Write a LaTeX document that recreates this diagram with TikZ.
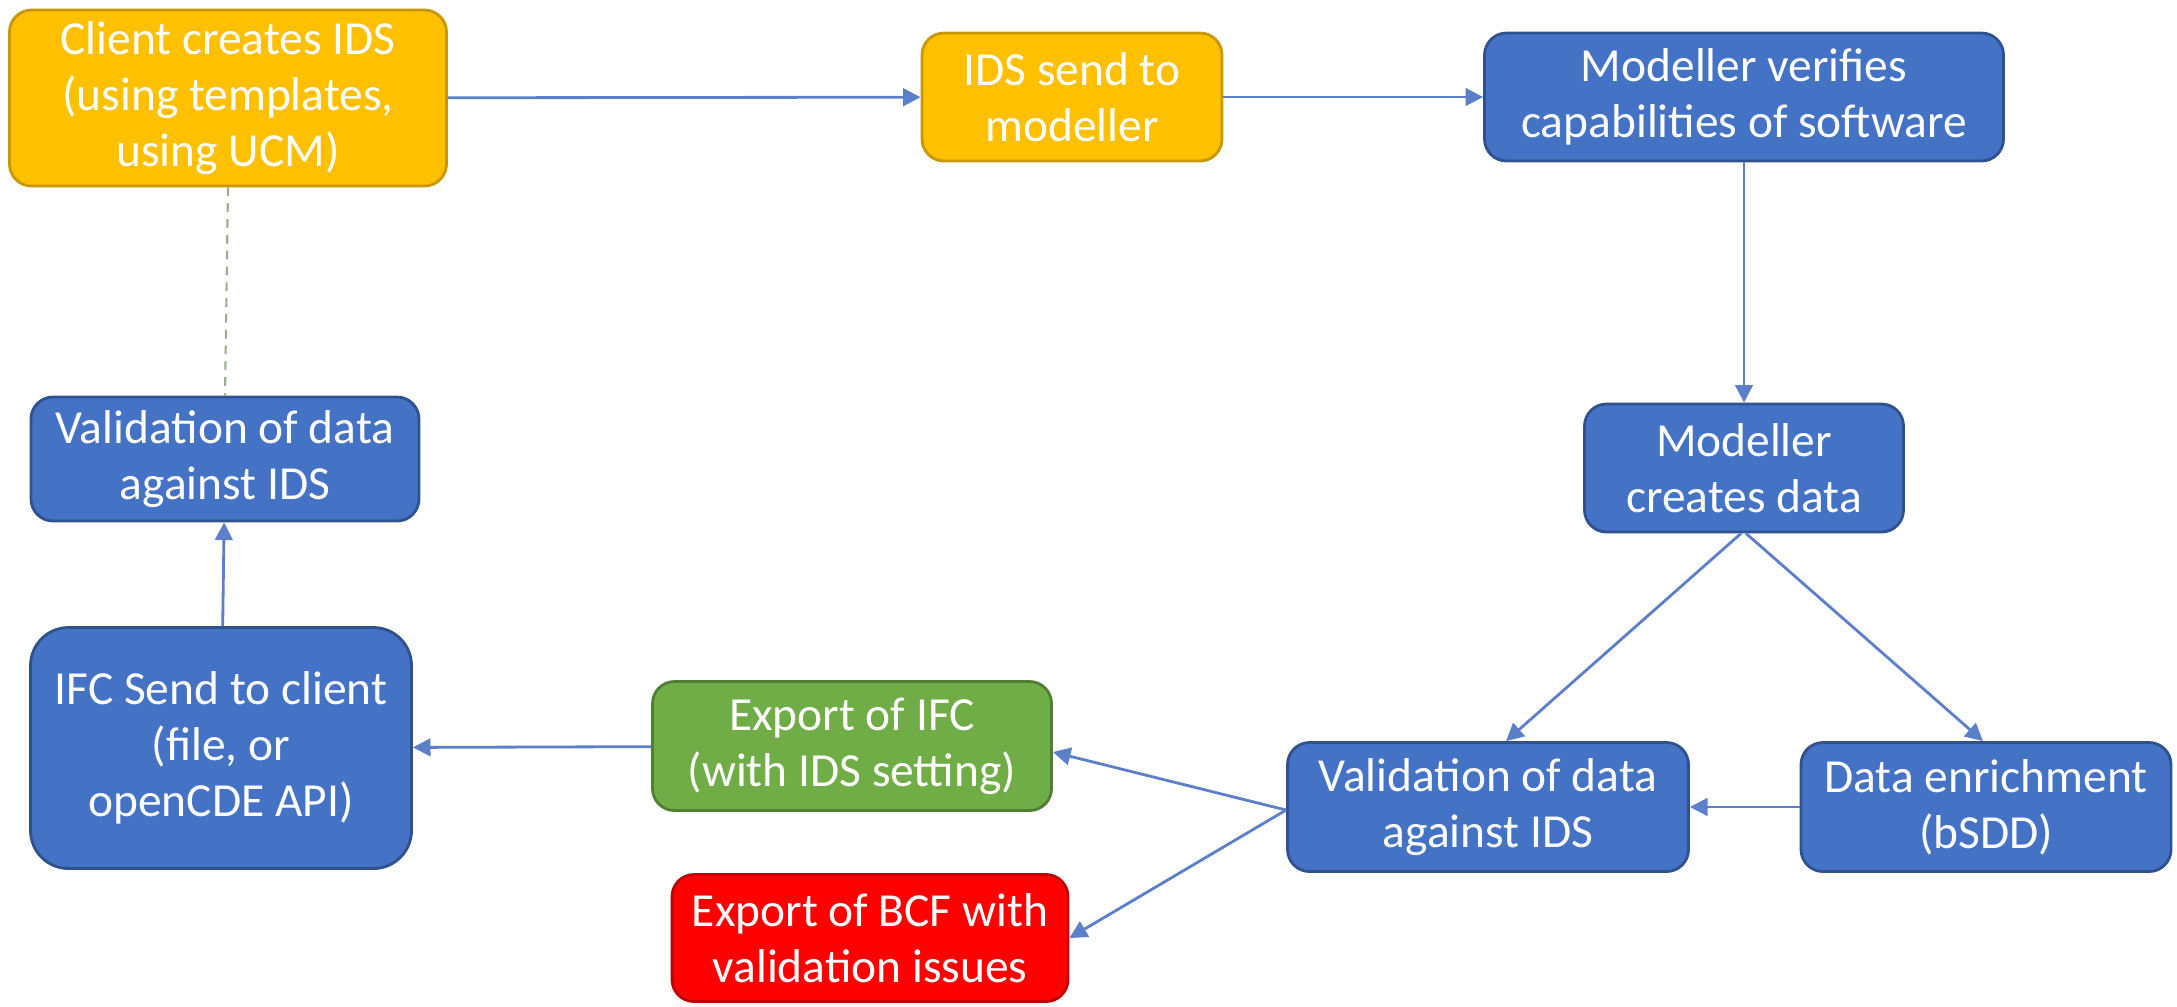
\documentclass[tikz,border=0pt]{standalone}
\usepackage{fontspec}
\setmainfont{Carlito}
\usetikzlibrary{arrows.meta,calc}
\definecolor{orgfill}{HTML}{FFC000}
\definecolor{orgdraw}{HTML}{C99700}
\definecolor{bluefill}{HTML}{4472C4}
\definecolor{bluedraw}{HTML}{2F528F}
\definecolor{grnfill}{HTML}{70AD47}
\definecolor{grndraw}{HTML}{507E32}
\definecolor{redfill}{HTML}{FF0000}
\definecolor{reddraw}{HTML}{C00000}
\definecolor{arrowcol}{HTML}{5B7FC9}
\definecolor{dashcol}{HTML}{9DAE8C}
\tikzset{
  box/.style={rounded corners=0.22cm, line width=0.8pt, inner sep=0pt, align=center,
    text=white, font=\fontsize{13.5}{16}\selectfont},
  orgbox/.style={box, fill=orgfill, draw=orgdraw},
  bluebox/.style={box, fill=bluefill, draw=bluedraw},
  grnbox/.style={box, fill=grnfill, draw=grndraw},
  redbox/.style={box, fill=redfill, draw=reddraw},
  conn/.style={draw=arrowcol, line width=0.8pt, -{Triangle[length=5pt,width=5pt]}},
}
\begin{document}
\begin{tikzpicture}
\useasboundingbox (0,0) rectangle (21.77,-10.06);
\node[orgbox, minimum width=4.37cm, minimum height=1.76cm] (client) at (2.28,-0.98)
  {Client creates IDS\\(using templates,\\using UCM)};
\node[orgbox, minimum width=3.00cm, minimum height=1.28cm] (send) at (10.72,-0.97)
  {IDS send to\\modeller};
\node[bluebox, minimum width=5.19cm, minimum height=1.28cm] (verify) at (17.44,-0.97)
  {Modeller verifies\\capabilities of software};
\node[bluebox, minimum width=3.19cm, minimum height=1.28cm] (creates) at (17.44,-4.68)
  {Modeller\\creates data};
\node[bluebox, minimum width=3.70cm, minimum height=1.29cm] (enrich) at (19.86,-8.07)
  {Data enrichment\\(bSDD)};
\node[bluebox, minimum width=4.01cm, minimum height=1.29cm] (valR) at (14.88,-8.07)
  {Validation of data\\against IDS};
\node[grnbox, minimum width=3.99cm, minimum height=1.29cm] (green) at (8.52,-7.46)
  {Export of IFC\\(with IDS setting)};
\node[redbox, minimum width=3.96cm, minimum height=1.27cm] (red) at (8.70,-9.38)
  {Export of BCF with\\validation issues};
\node[bluebox, rounded corners=0.38cm, minimum width=3.81cm, minimum height=2.41cm] (ifcsend) at (2.21,-7.48)
  {IFC Send to client\\(file, or\\openCDE API)};
\node[bluebox, minimum width=3.88cm, minimum height=1.24cm] (valL) at (2.25,-4.59)
  {Validation of data\\against IDS};

\draw[conn] (client) -- (send);
\draw[conn] (send) -- (verify);
\draw[conn] (verify) -- (creates);
\draw[conn] ($(creates.south)+(-0.03,0)$) -- ($(valR.north)+(0.18,0)$);
\draw[conn] ($(creates.south)+(0.02,0)$) -- ($(enrich.north)+(-0.03,0)$);
\draw[conn] (enrich) -- (valR);
\draw[conn] ($(valR.west)+(0,-0.03)$) -- ($(green.east)+(0,-0.06)$);
\draw[conn] ($(valR.west)+(0,-0.03)$) -- (red.east);
\draw[conn] (green) -- (ifcsend);
\draw[conn] (ifcsend) -- (valL);
\draw[draw=dashcol, line width=0.6pt, dash pattern=on 2.5pt off 2pt] (client.south) -- (valL.north);
\end{tikzpicture}
\end{document}
